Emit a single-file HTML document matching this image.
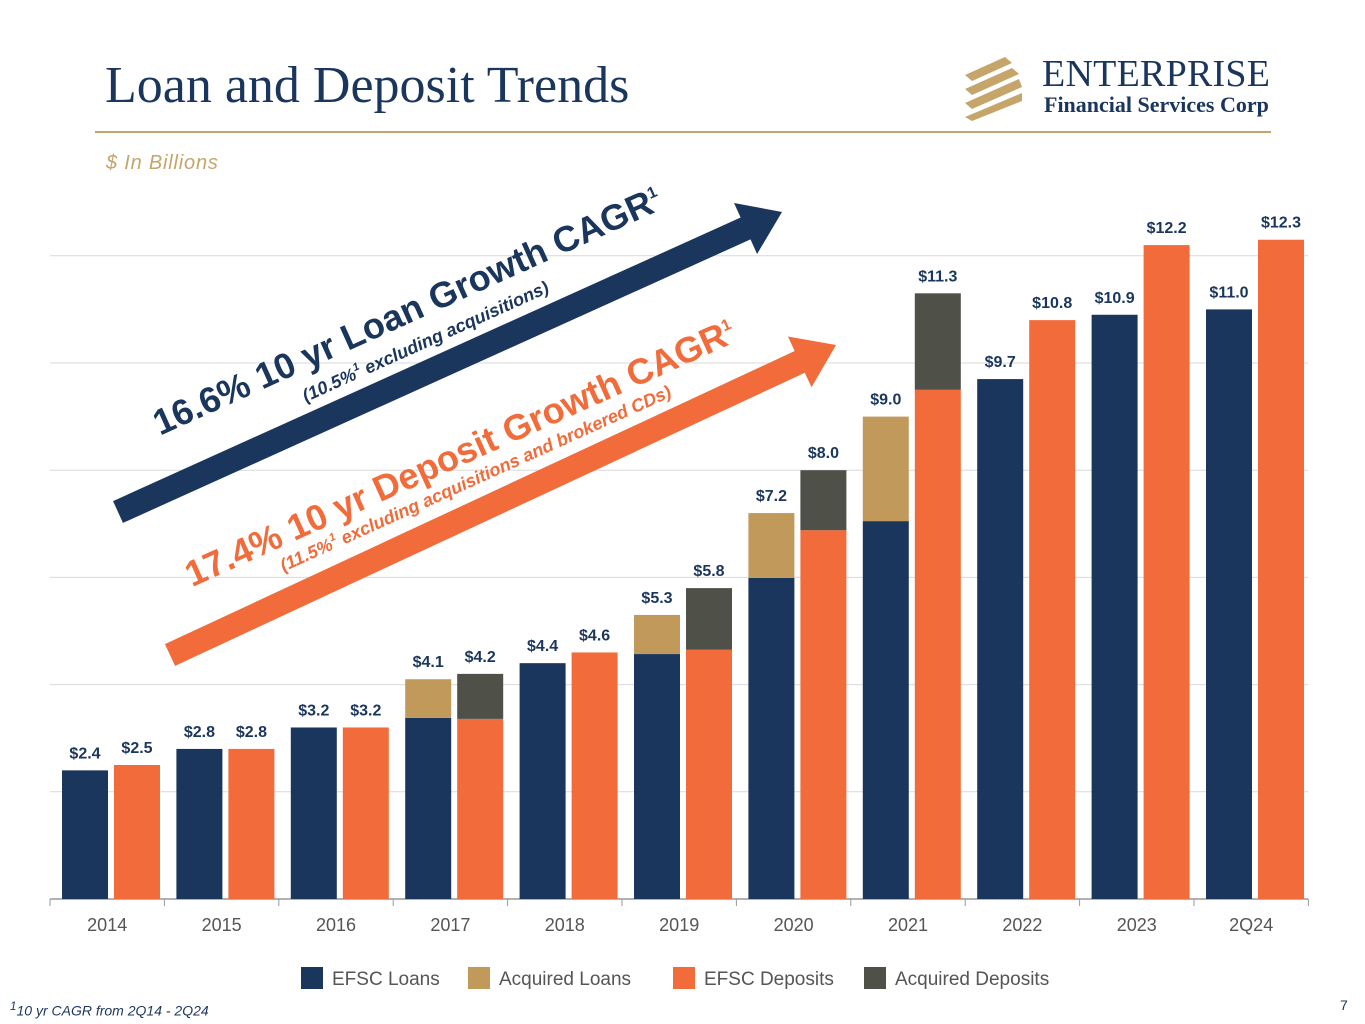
<!DOCTYPE html>
<html><head><meta charset="utf-8">
<style>
body{margin:0;width:1365px;height:1024px;background:#fff;overflow:hidden;font-family:"Liberation Sans",sans-serif;position:relative}
.title{position:absolute;left:105px;top:56px;font-family:"Liberation Serif",serif;font-size:52px;color:#1b365d;line-height:60px}
.rule{position:absolute;left:95px;top:131px;width:1176px;height:2px;background:#c5a56a}
.sub{position:absolute;left:106px;top:152px;font-size:20px;font-style:italic;color:#c5a56a;letter-spacing:0.8px}
.foot{position:absolute;left:10px;top:1000px;font-size:14px;font-style:italic;color:#1b365d}
.pg{position:absolute;left:1340px;top:997px;font-size:14px;color:#1b365d}
</style></head><body>
<div class="title">Loan and Deposit Trends</div>
<div class="rule"></div>
<div class="sub">$ In Billions</div>
<svg style="position:absolute;left:960px;top:55px" width="320" height="70">
<g fill="#c5a56a"><polygon points="5,20 45,2 52,8 12,26"/><polygon points="5,34 52,13 59,19 12,40"/><polygon points="5,48 59,24 62,32 12,54"/><polygon points="5,62 62,38 62,46 12,66"/></g>
<text x="82" y="31" font-family="Liberation Serif,serif" font-size="38" fill="#1b365d" textLength="228">ENTERPRISE</text>
<text x="84" y="57" font-family="Liberation Serif,serif" font-size="22" font-weight="bold" fill="#1b365d">Financial Services Corp</text>
</svg>
<svg id="chart" style="position:absolute;left:0;top:0" width="1365" height="1024"></svg>
<div class="foot"><sup>1</sup>10 yr CAGR from 2Q14 - 2Q24</div>
<div class="pg">7</div>
<script>
const categories=["2014","2015","2016","2017","2018","2019","2020","2021","2022","2023","2Q24"];
const efscLoans=[2.4,2.8,3.2,3.38,4.4,4.57,5.99,7.05,9.7,10.9,11.0];
const acquiredLoans=[0,0,0,0.72,0,0.73,1.21,1.95,0,0,0];
const efscDeposits=[2.5,2.8,3.2,3.36,4.6,4.65,6.88,9.5,10.8,12.2,12.3];
const acquiredDeposits=[0,0,0,0.84,0,1.15,1.12,1.8,0,0,0];
const loanLabels=["$2.4","$2.8","$3.2","$4.1","$4.4","$5.3","$7.2","$9.0","$9.7","$10.9","$11.0"];
const depLabels=["$2.5","$2.8","$3.2","$4.2","$4.6","$5.8","$8.0","$11.3","$10.8","$12.2","$12.3"];
const gridTicks=[2,4,6,8,10,12];
const NS="http://www.w3.org/2000/svg",svg=document.getElementById('chart');
const base=899,ppu=53.6,x0=50,grp=114.4;
const y=v=>base-v*ppu, gx=i=>x0+i*grp;
function mk(t,a,p){const e=document.createElementNS(NS,t);for(const k in a)e.setAttribute(k,a[k]);(p||svg).appendChild(e);return e;}
gridTicks.forEach(t=>{const l=mk('line',{x1:50,x2:1308,y1:y(t),y2:y(t),stroke:'#d9d9d9','stroke-width':1});

});
const ax=mk('line',{x1:50,x2:1308,y1:base,y2:base,stroke:'#999','stroke-width':1.5});


for(let i=0;i<=categories.length;i++){mk('line',{x1:gx(i),x2:gx(i),y1:base,y2:base+7,stroke:'#999'});}
function bar(x,v0,v,c,n){if(v<=0)return;const r=mk('rect',{x:x,y:y(v0+v),width:46,height:v*ppu,fill:c});

}
function lab(x,v,s){const t=mk('text',{x:x+23,y:y(v)-12,'text-anchor':'middle','font-size':16,'font-weight':'bold',fill:'#1b365d'});t.textContent=s;

}
categories.forEach((c,i)=>{const xl=gx(i)+12,xd=gx(i)+64;
bar(xl,0,efscLoans[i],'#1b365d','efsc-loans-bar');
bar(xl,efscLoans[i],acquiredLoans[i],'#c19a5b','acquired-loans-bar');
bar(xd,0,efscDeposits[i],'#f26b3a','efsc-deposits-bar');
bar(xd,efscDeposits[i],acquiredDeposits[i],'#4f5048','acquired-deposits-bar');
lab(xl,efscLoans[i]+acquiredLoans[i],loanLabels[i]);
lab(xd,efscDeposits[i]+acquiredDeposits[i],depLabels[i]);
const t=mk('text',{x:gx(i)+grp/2,y:931,'text-anchor':'middle','font-size':18,fill:'#555'});t.textContent=c;

});
function arrow(x1,y1,x2,y2,c,n){const a=Math.atan2(y2-y1,x2-x1),deg=a*180/Math.PI,L=Math.hypot(x2-x1,y2-y1);
const g=mk('g',{transform:`translate(${x1},${y1}) rotate(${deg})`});


mk('polygon',{points:`0,-12 ${L-40},-12 ${L-40},-28 ${L},0 ${L-40},28 ${L-40},12 0,12`,fill:c},g);}
arrow(118,512,782,212,'#1b365d','loan-growth-arrow');
arrow(170,655,836,345,'#f26b3a','deposit-growth-arrow');
function rtext(x,yy,s,sz,c,n,it){const t=mk('text',{x:x,y:yy,'text-anchor':'middle','font-size':sz,'font-weight':'bold',fill:c,'font-style':it?'italic':'normal',transform:`rotate(-24.3 ${x} ${yy})`});t.innerHTML=s;

}
rtext(412,322,'16.6% 10 yr Loan Growth CAGR<tspan font-size="16" dy="-14">1</tspan>',36,'#1b365d','loan-cagr-text');
rtext(428,347,'(10.5%<tspan font-size="11" dy="-8">1</tspan><tspan dy="8"> excluding acquisitions)</tspan>',18,'#1b365d','loan-cagr-subtext',true);
rtext(465,464,'17.4% 10 yr Deposit Growth CAGR<tspan font-size="16" dy="-14">1</tspan>',36,'#f26b3a','deposit-cagr-text');
rtext(478,484,'(11.5%<tspan font-size="11" dy="-8">1</tspan><tspan dy="8"> excluding acquisitions and brokered CDs)</tspan>',18,'#f26b3a','deposit-cagr-subtext',true);
const leg=[["EFSC Loans","#1b365d",301],["Acquired Loans","#c19a5b",468],["EFSC Deposits","#f26b3a",673],["Acquired Deposits","#4f5048",864]];
leg.forEach(l=>{const g=mk('g',{});


mk('rect',{x:l[2],y:967,width:22,height:22,fill:l[1]},g);
const t=mk('text',{x:l[2]+31,y:985,'font-size':19,fill:'#555'},g);t.textContent=l[0];});
</script>
</body></html>
